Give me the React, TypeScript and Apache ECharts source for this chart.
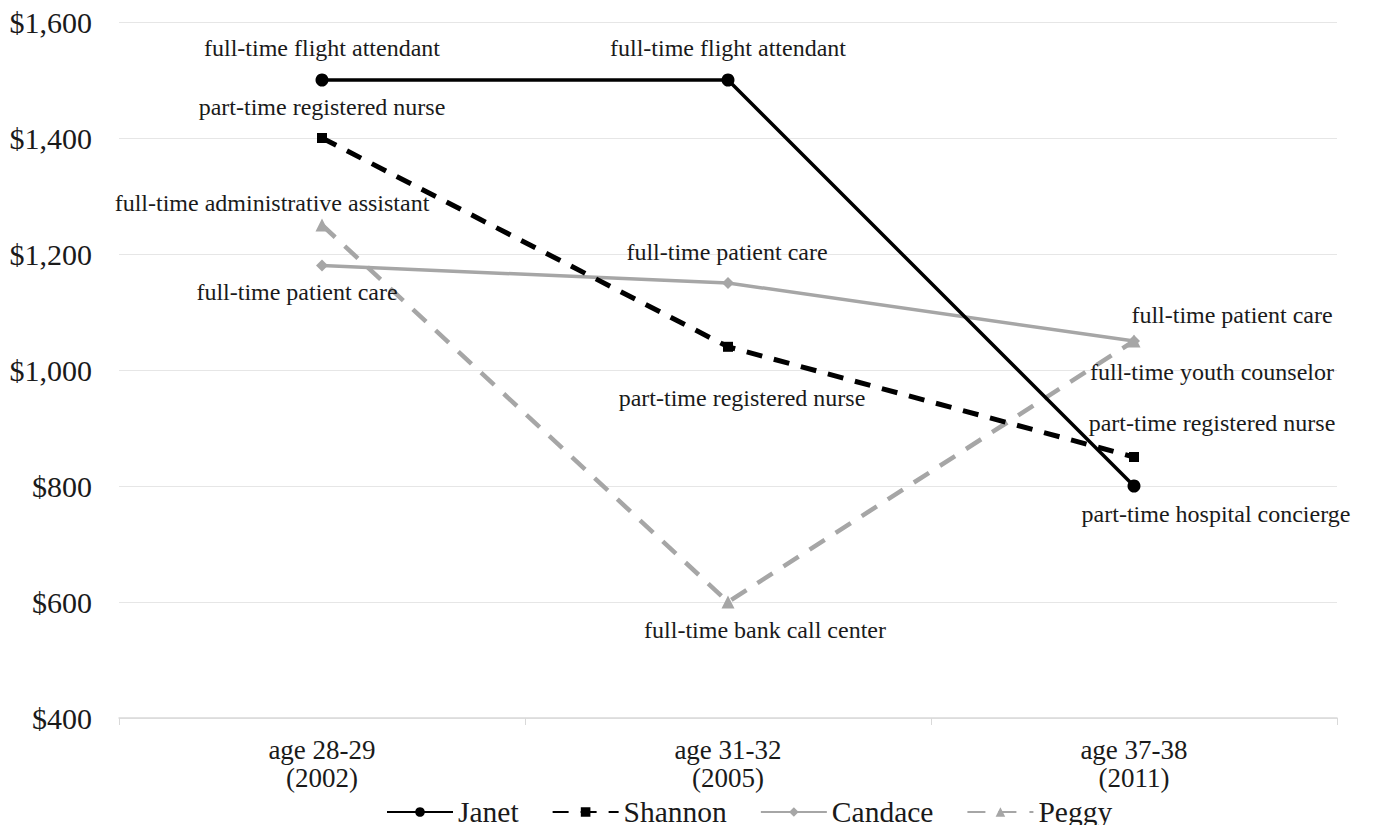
import React, { useEffect, useRef } from "react";
import * as echarts from "echarts";

const categories = ["age 28-29\n(2002)", "age 31-32\n(2005)", "age 37-38\n(2011)"];
const janet = [1500, 1500, 800];
const shannon = [1400, 1040, 850];
const candace = [1180, 1150, 1050];
const peggy = [1250, 600, 1050];

const janetJobs = ["full-time flight attendant", "full-time flight attendant", "part-time hospital concierge"];
const shannonJobs = ["part-time registered nurse", "part-time registered nurse", "part-time registered nurse"];
const candaceJobs = ["full-time patient care", "full-time patient care", "full-time patient care"];
const peggyJobs = ["full-time administrative assistant", "full-time bank call center", "full-time youth counselor"];

const yTicks = [400, 600, 800, 1000, 1200, 1400, 1600];

const FONT = "'Liberation Serif', 'Times New Roman', serif";

function mk(values: number[], jobs: string[], offsets: number[][]) {
  return values.map((v, i) => ({
    value: v,
    label: {
      show: true,
      position: "inside",
      offset: offsets[i],
      formatter: jobs[i],
      color: "#1a1a1a",
      fontSize: 24,
      fontFamily: FONT,
    },
  }));
}

export default function App() {
  const ref = useRef<HTMLDivElement>(null);
  useEffect(() => {
    if (!ref.current) return;
    const chart = echarts.init(ref.current, null, { renderer: "svg" });
    chart.setOption({
      animation: false,
      backgroundColor: "#ffffff",
      textStyle: { fontFamily: FONT },
      grid: { left: 119, right: 38, top: 22, bottom: 115, containLabel: false },
      legend: {
        top: 797,
        left: 386,
        padding: 0,
        itemWidth: 66,
        itemHeight: 12,
        itemGap: 33,
        textStyle: { fontSize: 29.5, lineHeight: 30, color: "#1a1a1a", fontFamily: FONT },
        data: ["Janet", "Shannon", "Candace", "Peggy"],
      },
      xAxis: {
        type: "category",
        data: categories,
        boundaryGap: true,
        axisLine: { lineStyle: { color: "#d9d9d9", width: 1.5 } },
        axisTick: { show: true, length: 7, lineStyle: { color: "#d9d9d9" } },
        axisLabel: {
          color: "#1a1a1a",
          fontSize: 27,
          fontFamily: FONT,
          lineHeight: 28,
          margin: 18,
        },
      },
      yAxis: {
        type: "value",
        min: 400,
        max: 1600,
        interval: 200,
        axisLine: { show: false },
        axisTick: { show: false },
        splitLine: { lineStyle: { color: "#e6e6e6", width: 1 } },
        axisLabel: {
          color: "#1a1a1a",
          fontSize: 30,
          fontFamily: FONT,
          margin: 27,
          formatter: (v: number) => (yTicks.includes(v) ? "$" + v.toLocaleString("en-US") : ""),
        },
      },
      series: [
        {
          name: "Janet",
          type: "line",
          data: mk(janet, janetJobs, [[0, -32], [0, -32], [82, 28]]),
          symbol: "circle",
          symbolSize: 13,
          itemStyle: { color: "#000000" },
          lineStyle: { color: "#000000", width: 3.5 },
          z: 4,
        },
        {
          name: "Shannon",
          type: "line",
          data: mk(shannon, shannonJobs, [[0, -31], [14, 51], [78, -34]]),
          symbol: "rect",
          symbolSize: 10,
          itemStyle: { color: "#000000" },
          lineStyle: { color: "#000000", width: 5, type: [16, 12] },
          z: 3,
        },
        {
          name: "Candace",
          type: "line",
          data: mk(candace, candaceJobs, [[-25, 26], [-1, -31], [98, -26]]),
          symbol: "diamond",
          symbolSize: 12,
          itemStyle: { color: "#a6a6a6" },
          lineStyle: { color: "#a6a6a6", width: 3.5 },
          z: 2,
        },
        {
          name: "Peggy",
          type: "line",
          data: mk(peggy, peggyJobs, [[-50, -22], [37, 28], [78, 31]]),
          symbol: "triangle",
          symbolSize: 13,
          itemStyle: { color: "#a6a6a6" },
          lineStyle: { color: "#a6a6a6", width: 4.5, type: [18, 13] },
          z: 1,
        },
      ],
    });
    return () => chart.dispose();
  }, []);
  return <div ref={ref} style={{ width: 1375, height: 833, margin: -8 }} />;
}
